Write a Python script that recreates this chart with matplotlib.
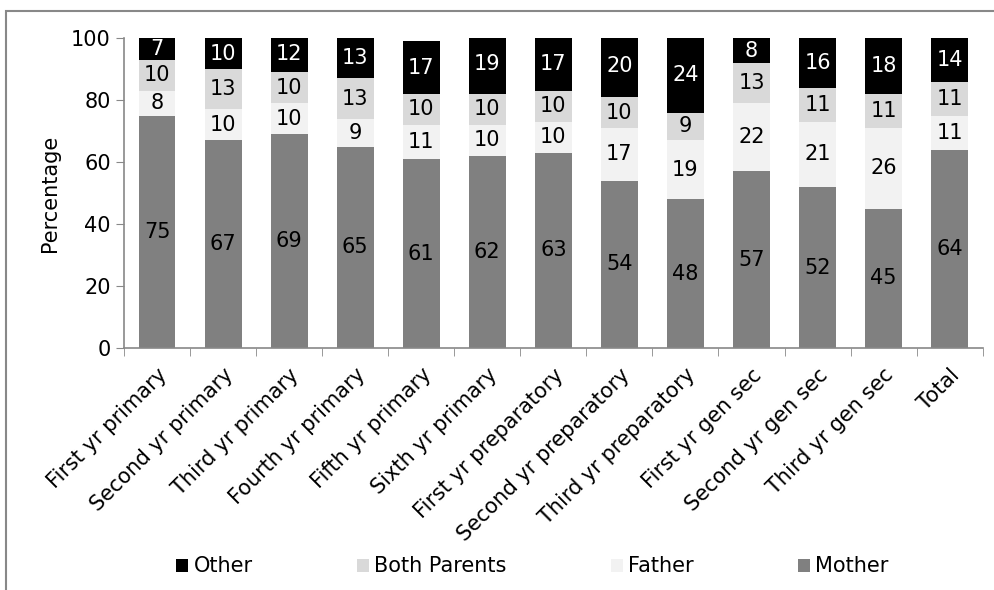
import numpy as np
import matplotlib.pyplot as plt
from matplotlib.patches import Rectangle

grades = ["First yr primary", "Second yr primary", "Third yr primary",
          "Fourth yr primary", "Fifth yr primary", "Sixth yr primary",
          "First yr preparatory", "Second yr preparatory", "Third yr preparatory",
          "First yr gen sec", "Second yr gen sec", "Third yr gen sec", "Total"]
mother = [75, 67, 69, 65, 61, 62, 63, 54, 48, 57, 52, 45, 64]
father = [8, 10, 10, 9, 11, 10, 10, 17, 19, 22, 21, 26, 11]
both = [10, 13, 10, 13, 10, 10, 10, 10, 9, 13, 11, 11, 11]
other = [7, 10, 12, 13, 17, 19, 17, 20, 24, 8, 16, 18, 14]

series = [("Mother", mother, "#808080", "black"),
          ("Father", father, "#f2f2f2", "black"),
          ("Both Parents", both, "#d9d9d9", "black"),
          ("Other", other, "#000000", "white")]

FS = 15
plt.rcParams["font.family"] = "DejaVu Sans"
fig = plt.figure(figsize=(9.95, 5.9), dpi=100)
ax = fig.add_axes([0.1246, 0.410, 0.863, 0.5254])

x = np.arange(len(grades))
bottom = np.zeros(len(grades))
handles = {}
for name, vals, col, tcol in series:
    vals = np.array(vals, dtype=float)
    bars = ax.bar(x, vals, 0.56, bottom=bottom, color=col, label=name)
    handles[name] = bars
    for xi, b, v in zip(x, bottom, vals):
        ax.text(xi, b + v / 2, str(int(v)), ha="center", va="center",
                fontsize=FS, color=tcol)
    bottom += vals

ax.set_xlim(-0.5, len(grades) - 0.5)
ax.set_ylim(0, 100)
ax.set_yticks([0, 20, 40, 60, 80, 100])
ax.tick_params(axis="y", labelsize=FS, length=6, color="#888888")
ax.set_xticks(x)
ax.set_xticklabels(grades, rotation=45, ha="right", rotation_mode="anchor",
                   fontsize=FS)
ax.set_xticks(np.arange(len(grades) + 1) - 0.5, minor=True)
ax.tick_params(axis="x", which="major", length=0, pad=12)
ax.tick_params(axis="x", which="minor", length=6, color="#888888")
ax.set_ylabel("Percentage", fontsize=FS, labelpad=8)
for s in ["top", "right"]:
    ax.spines[s].set_visible(False)
for s in ["left", "bottom"]:
    ax.spines[s].set_color("#888888")
    ax.spines[s].set_linewidth(1.2)

order = ["Other", "Both Parents", "Father", "Mother"]
fig.legend([handles[n] for n in order], order, loc="center",
           bbox_to_anchor=(0.535, 0.04), ncol=4, frameon=False, fontsize=FS,
           handlelength=0.58, handleheight=0.58, handletextpad=0.25,
           columnspacing=5.0)

# chart area border
fig.patches.append(Rectangle((6 / 995, -0.1), 1.2, 1 - 11 / 590 + 0.1,
                             transform=fig.transFigure, fill=False,
                             edgecolor="#888888", linewidth=1.5))

fig.savefig("out.png", dpi=100)
